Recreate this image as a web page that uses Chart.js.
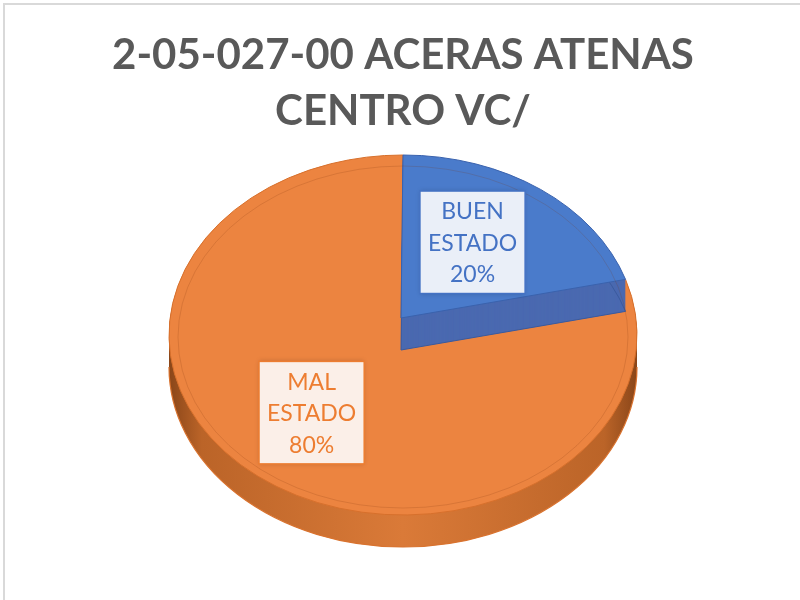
<!DOCTYPE html>
<html>
<head>
<meta charset="utf-8">
<script src="https://cdn.jsdelivr.net/npm/chart.js@4.4.0/dist/chart.umd.min.js"></script>
<style>
  html, body { margin: 0; padding: 0; background: #fff; }
  #wrap { position: relative; width: 800px; height: 600px; overflow: hidden; }
  #frame { position: absolute; left: 3px; top: 3px; width: 900px; height: 700px;
           border: 2px solid #d9d9d9; box-sizing: border-box; pointer-events: none; }
  canvas { position: absolute; left: 0; top: 0; }
</style>
</head>
<body>
<div id="wrap">
  <canvas id="pie" width="800" height="600"></canvas>
  <div id="frame"></div>
</div>
<script>
const titleLines = ["2-05-027-00 ACERAS ATENAS", "CENTRO VC/"];
const categories = ["BUEN ESTADO", "MAL ESTADO"];
const values = [20, 80];

const topColors = ["#4a7bcb", "#ec8440"];
const edgeColors = ["#3a62ad", "#d7702c"];
const boxFills = ["#eaeff8", "#fbefe8"];
const textColors = ["#4472c4", "#ed7d31"];

// projection of the pie (3d look)
const CX = 403, CY = 335, RX = 234, RY = 180;
const AX = 401, AY = 318; // apex of the wedges
const DEPTH = 32;
const LABEL_RADIUS = [0.52, 0.65];

function wedge(ctx, arc, dy) {
  ctx.beginPath();
  ctx.moveTo(AX, AY + dy);
  ctx.ellipse(CX, CY + dy, RX, RY, 0, arc.startAngle, arc.endAngle);
  ctx.closePath();
}

const pie3d = {
  id: "pie3d",
  beforeDatasetsDraw(chart) {
    const ctx = chart.ctx;
    const arcs = chart.getDatasetMeta(0).data;
    const sideGrad = ctx.createLinearGradient(CX - RX, 0, CX + RX, 0);
    sideGrad.addColorStop(0, "#8a4619");
    sideGrad.addColorStop(0.07, "#bb6428");
    sideGrad.addColorStop(0.5, "#da7a38");
    sideGrad.addColorStop(0.93, "#bb6428");
    sideGrad.addColorStop(1, "#8a4619");
    ctx.save();
    for (let i = arcs.length - 1; i >= 0; i--) {
      const arc = arcs[i];
      for (let d = DEPTH; d >= 1; d--) {
        wedge(ctx, arc, d);
        ctx.fillStyle = i === 0 ? "#4a69b0" : sideGrad;
        ctx.fill();
      }
      if (i === 0) {
        wedge(ctx, arc, DEPTH);
        ctx.strokeStyle = "#3a5a9e";
        ctx.lineWidth = 1;
        ctx.stroke();
      } else {
        ctx.beginPath();
        ctx.ellipse(CX, CY + DEPTH, RX, RY, 0, 0, Math.PI);
        ctx.strokeStyle = "#d9732f";
        ctx.lineWidth = 1.2;
        ctx.stroke();
      }
      wedge(ctx, arc, 0);
      ctx.fillStyle = topColors[i];
      ctx.fill();
      ctx.strokeStyle = edgeColors[i];
      ctx.lineWidth = 1;
      ctx.stroke();
    }
    // bevel line on the top face
    ctx.beginPath();
    ctx.ellipse(CX, CY + 2, RX - 9, RY - 9, 0, 0, Math.PI * 2);
    ctx.strokeStyle = "rgba(120,50,10,0.18)";
    ctx.lineWidth = 1;
    ctx.stroke();
    ctx.restore();
    return false;
  },
  afterDraw(chart) {
    const ctx = chart.ctx;
    const arcs = chart.getDatasetMeta(0).data;
    const total = values.reduce((a, b) => a + b, 0);
    ctx.save();
    ctx.font = "23px Lato";
    ctx.textAlign = "center";
    ctx.textBaseline = "middle";
    arcs.forEach((arc, i) => {
      const lines = categories[i].split(" ").concat([Math.round(values[i] / total * 100) + "%"]);
      const lineH = 31.5;
      const w = Math.max(...lines.map(l => ctx.measureText(l).width)) + 16;
      const h = lines.length * lineH + 8;
      const m = (arc.startAngle + arc.endAngle) / 2;
      const lx = AX + LABEL_RADIUS[i] * RX * Math.cos(m);
      const ly = AY + LABEL_RADIUS[i] * RY * Math.sin(m);
      ctx.shadowColor = "rgba(0,0,0,0.18)";
      ctx.shadowBlur = 5;
      ctx.fillStyle = boxFills[i];
      ctx.fillRect(lx - w / 2, ly - h / 2, w, h);
      ctx.shadowBlur = 0;
      ctx.strokeStyle = textColors[i];
      ctx.lineWidth = 1.5;
      ctx.strokeRect(lx - w / 2, ly - h / 2, w, h);
      ctx.fillStyle = textColors[i];
      lines.forEach((l, k) => {
        ctx.fillText(l, lx, ly - h / 2 + 4 + lineH * (k + 0.5) + 1);
      });
    });
    ctx.restore();
  }
};

new Chart(document.getElementById("pie"), {
  type: "pie",
  data: {
    labels: categories,
    datasets: [{ data: values, backgroundColor: topColors, borderColor: edgeColors }]
  },
  options: {
    responsive: false,
    animation: false,
    layout: { padding: { left: 6 } },
    plugins: {
      legend: { display: false },
      tooltip: { enabled: false },
      title: {
        display: true,
        text: titleLines,
        color: "#595959",
        font: { family: "Lato", weight: "bold", size: 42, lineHeight: 1.34 },
        padding: { top: 27, bottom: 10 }
      }
    }
  },
  plugins: [pie3d]
});
</script>
</body>
</html>
